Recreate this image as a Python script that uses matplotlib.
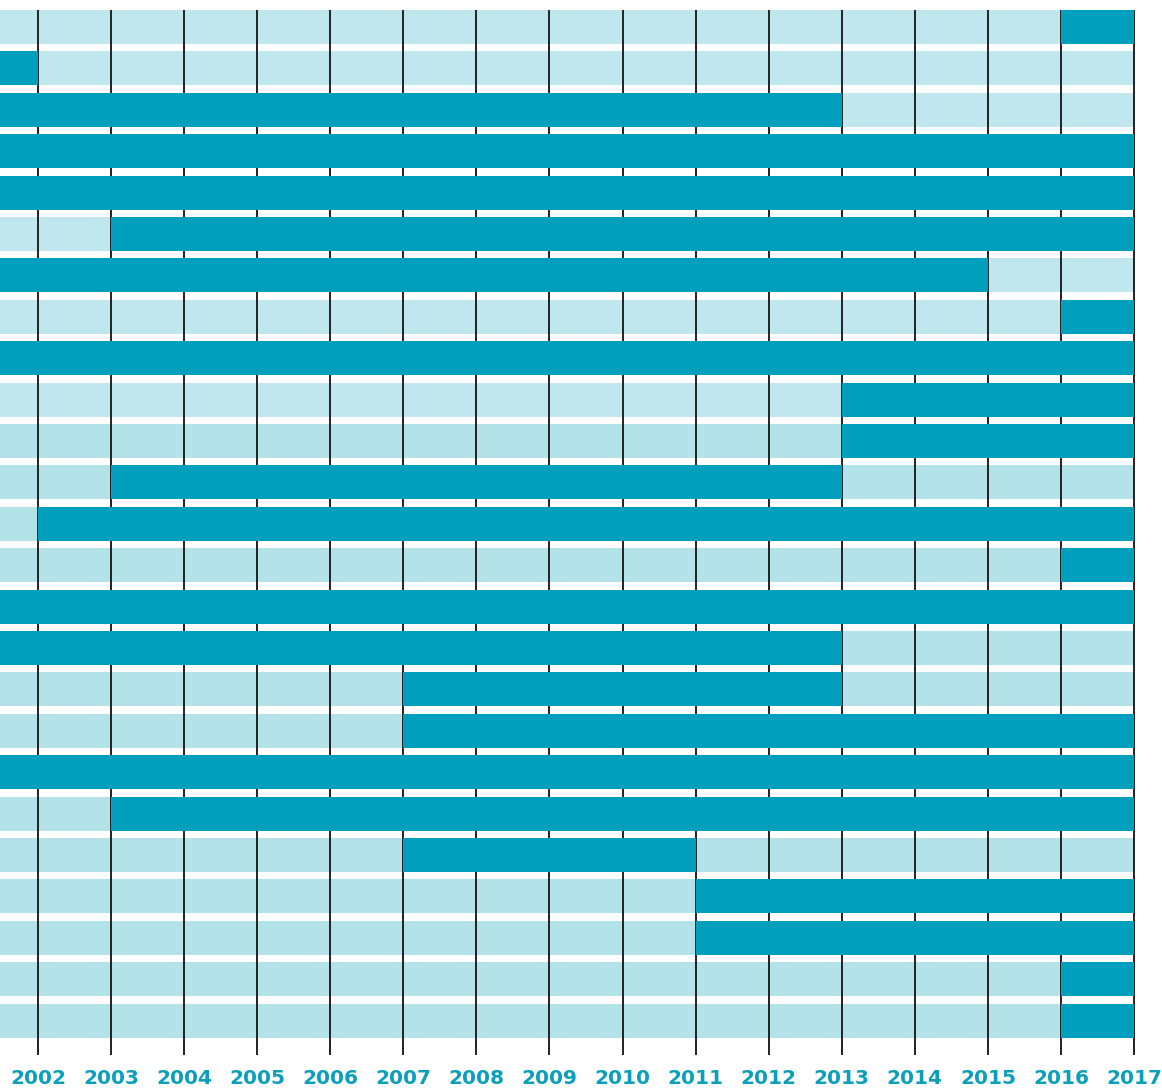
import matplotlib.pyplot as plt

# timeline: one row per entry, dark span = active years
years = list(range(2002, 2018))
starts = [2016, 2001.48, 2001.48, 2001.48, 2001.48, 2003, 2001.48, 2016, 2001.48, 2013,
          2013, 2003, 2002, 2016, 2001.48, 2001.48, 2007, 2007, 2001.48, 2003,
          2007, 2011, 2011, 2016, 2016]
ends = [2017, 2002, 2013, 2017, 2017, 2017, 2015, 2017, 2017, 2017,
        2017, 2013, 2017, 2017, 2017, 2013, 2013, 2017, 2017, 2017,
        2011, 2017, 2017, 2017, 2017]

x0 = 2001.48
x1 = 2017.383
dark = "#009fbd"
light_top = "#c1e7ee"
light_bottom = "#b3e2e8"
h = 34 / 41.42

fig = plt.figure(figsize=(11.62, 10.88), dpi=100)
ax = fig.add_axes([0, 33 / 1088, 1, 1045 / 1088])

rows = list(range(len(starts)))
for i in rows:
    c = light_top if i < 10 else light_bottom
    ax.barh(i, 2017 - x0, left=x0, height=h, color=c, zorder=1)
    ax.barh(i, ends[i] - starts[i], left=starts[i], height=h, color=dark, zorder=3)

ax.vlines(years, -0.41, 24.83, color="#222222", lw=1.4, zorder=2)

ax.set_xlim(x0, x1)
ax.set_ylim(24.83, -0.41)
ax.set_yticks([])
ax.set_xticks(years)
ax.set_xticklabels([str(y) for y in years], color="#0a9fbb", fontsize=14.5,
                   fontfamily="DejaVu Sans", fontweight="bold")
ax.tick_params(axis="x", length=0, pad=10)
for s in ax.spines.values():
    s.set_visible(False)

fig.savefig("out.png", dpi=100)
